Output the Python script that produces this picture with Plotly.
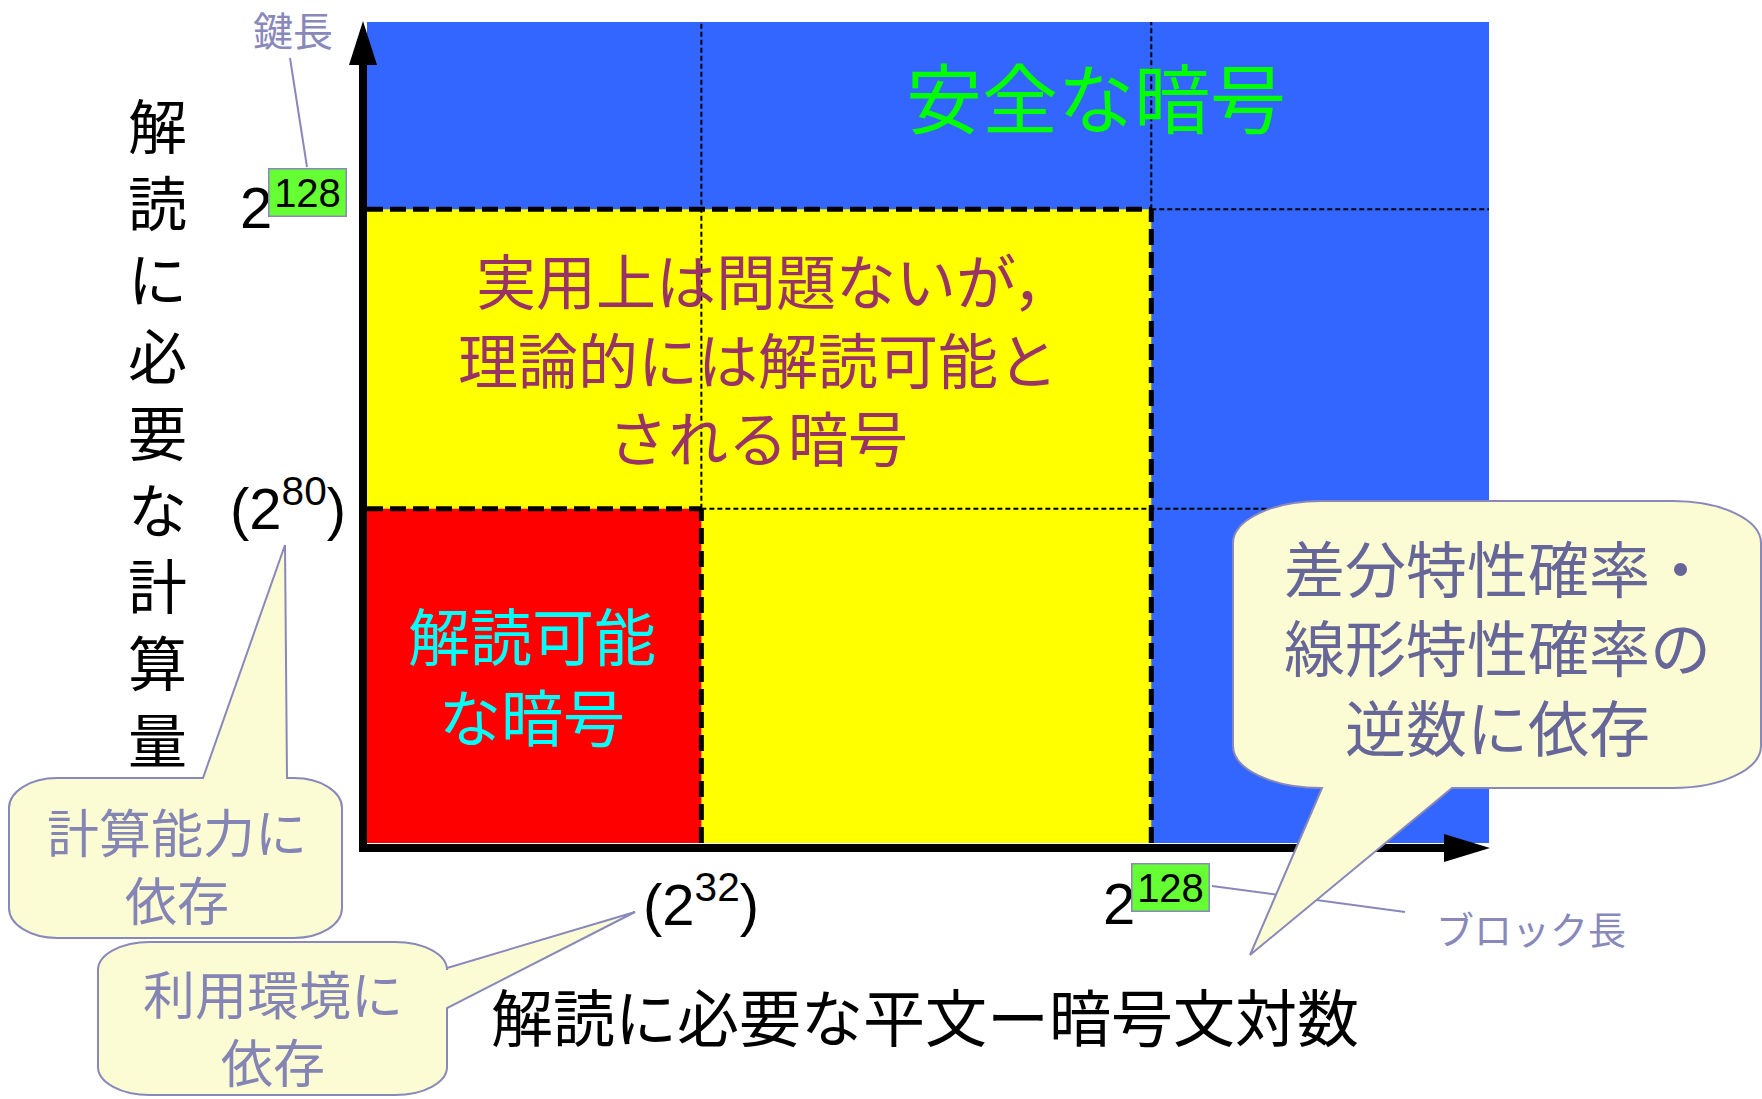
import plotly.graph_objects as go

# ---------------- data ----------------
region_names = ["安全な暗号",
                "実用上は問題ないが，<br>理論的には解読可能と<br>される暗号",
                "解読可能<br>な暗号"]
region_x_max = [100, 69.9, 29.8]      # axis units, origin at 0
region_y_max = [100, 77.2, 40.7]
x_tick_vals = [29.8, 69.9]
x_tick_exp = ["32", "128"]
x_tick_paren = [True, False]
y_tick_vals = [40.7, 77.2]
y_tick_exp = ["80", "128"]
y_tick_paren = [True, False]
x_title = "解読に必要な平文ー暗号文対数"
y_title = "解読に必要な計算量"
key_label = "鍵長"
block_label = "ブロック長"
callout_texts = ["計算能力に<br>依存",
                 "利用環境に<br>依存",
                 "差分特性確率・<br>線形特性確率の<br>逆数に依存"]

# ---------------- style / layout ----------------
W, H = 1762, 1099
PL, PR, PT, PB = 367, 1489, 22, 843
sx = (PR - PL) / 100.0
sy = (PB - PT) / 100.0
x_range = [-PL / sx, (W - PL) / sx]
y_range = [-(H - PB) / sy, PB / sy]

region_colors = ["#3366FF", "#FFFF00", "#FF0000"]
region_text_colors = ["#00FF00", "#993366", "#00FFFF"]
region_text_sizes = [76, 60, 62]
# per-block centres (pixels) and number of lines in each block
region_text_pos = [[(1096, 95, 1)],
                   [(774, 278, 1), (758, 396, 2)],
                   [(532, 674, 2)]]

CJK = "Noto Sans CJK JP, Noto Sans CJK SC, sans-serif"
NUM = "Liberation Sans Narrow, Arial Narrow, Liberation Sans, sans-serif"
NOTE = "#8888BB"
FILL = "#FCFCD4"

fig = go.Figure()
fig.add_trace(go.Scatter(x=[None], y=[None], xaxis="x", yaxis="y",
                         showlegend=False, hoverinfo="skip"))
fig.add_trace(go.Scatter(x=[None], y=[None], xaxis="x2", yaxis="y2",
                         showlegend=False, hoverinfo="skip"))

shapes = []
for xm, ym, col in zip(region_x_max, region_y_max, region_colors):
    shapes.append(dict(type="rect", xref="x", yref="y", x0=0, y0=0, x1=xm, y1=ym,
                       fillcolor=col, line=dict(width=0)))

thin = dict(color="black", width=2, dash="5px,3px")
thick = dict(color="black", width=5, dash="16px,7px")
for xm, ym in zip(region_x_max[1:], region_y_max[1:]):
    shapes.append(dict(type="line", xref="x", yref="y", x0=xm, x1=xm, y0=ym, y1=100, line=thin))
    shapes.append(dict(type="line", xref="x", yref="y", x0=xm, x1=100, y0=ym, y1=ym, line=thin))
for xm, ym in zip(region_x_max[1:], region_y_max[1:]):
    shapes.append(dict(type="line", xref="x", yref="y", x0=0, x1=xm, y0=ym, y1=ym, line=thick))
    shapes.append(dict(type="line", xref="x", yref="y", x0=xm, x1=xm, y0=0, y1=ym, line=thick))

# axes with arrows (pixel overlay)
shapes.append(dict(type="line", xref="x2", yref="y2", x0=363, x1=363, y0=852, y1=60,
                   line=dict(color="black", width=8)))
shapes.append(dict(type="path", xref="x2", yref="y2", path="M349,65 L363,21 L377,65 Z",
                   fillcolor="black", line=dict(width=0)))
shapes.append(dict(type="line", xref="x2", yref="y2", x0=359, x1=1448, y0=848, y1=848,
                   line=dict(color="black", width=8)))
shapes.append(dict(type="path", xref="x2", yref="y2", path="M1444,834 L1490,848 L1444,862 Z",
                   fillcolor="black", line=dict(width=0)))

# leader lines
shapes.append(dict(type="line", xref="x2", yref="y2", x0=290, y0=58, x1=307, y1=167,
                   line=dict(color=NOTE, width=2)))
shapes.append(dict(type="line", xref="x2", yref="y2", x0=1212, y0=886, x1=1405, y1=912,
                   line=dict(color=NOTE, width=2)))


def callout(x0, y0, x1, y1, rx, ry, edge, a, b, tip):
    k = 0.5523
    t = f"L{tip[0]},{tip[1]}"
    s = [f"M{x0 + rx},{y0}"]
    if edge == "top":
        s += [f"L{a},{y0}", t, f"L{b},{y0}"]
    s.append(f"L{x1 - rx},{y0}")
    s.append(f"C{x1 - rx + k * rx},{y0} {x1},{y0 + ry - k * ry} {x1},{y0 + ry}")
    if edge == "right":
        s += [f"L{x1},{a}", t, f"L{x1},{b}"]
    s.append(f"L{x1},{y1 - ry}")
    s.append(f"C{x1},{y1 - ry + k * ry} {x1 - rx + k * rx},{y1} {x1 - rx},{y1}")
    if edge == "bottom":
        s += [f"L{a},{y1}", t, f"L{b},{y1}"]
    s.append(f"L{x0 + rx},{y1}")
    s.append(f"C{x0 + rx - k * rx},{y1} {x0},{y1 - ry + k * ry} {x0},{y1 - ry}")
    s.append(f"L{x0},{y0 + ry}")
    s.append(f"C{x0},{y0 + ry - k * ry} {x0 + rx - k * rx},{y0} {x0 + rx},{y0}")
    s.append("Z")
    return dict(type="path", xref="x2", yref="y2", path=" ".join(s),
                fillcolor=FILL, line=dict(color=NOTE, width=2))


shapes.append(callout(9, 778, 342, 938, 48, 30, "top", 203, 287, (285, 545)))
shapes.append(callout(98, 942, 447, 1095, 52, 28, "right", 968, 1008, (635, 912)))
shapes.append(callout(1233, 501, 1761, 788, 88, 42, "bottom", 1452, 1322, (1250, 955)))

ann = []


def txt(x, y, text, size, color, family=CJK, xref="x2", yref="y2", **kw):
    d = dict(x=x, y=y, xref=xref, yref=yref, text=text, showarrow=False,
             xanchor="center", yanchor="middle", align="center",
             font=dict(family=family, size=size, color=color))
    d.update(kw)
    ann.append(d)


# region labels (the first yellow line, ending in a full-width comma, is centred on its ink)
for name, pos, size, col in zip(region_names, region_text_pos,
                                region_text_sizes, region_text_colors):
    lines = name.split("<br>")
    i = 0
    for cx, cy, n in pos:
        txt(cx, cy, "<br>".join(lines[i:i + n]), size, col)
        i += n

# y title (vertical, stacked)
txt(157, 430, "<br>".join(y_title), 59, "black")
# x title
txt(925, 1015, x_title, 62, "black")

# ticks
for v, e, p in zip(x_tick_vals, x_tick_exp, x_tick_paren):
    if p:
        txt(v, 900, f"(2<sup>{e}</sup>)", 58, "black", family=NUM, xref="x", yref="y2")
    else:
        txt(v, 903, "2", 58, "black", family=NUM, xref="x", yref="y2", xshift=-32)
        txt(v, 887, e, 40, "black", family=NUM, xref="x", yref="y2", xshift=19,
            bgcolor="#66FF33", bordercolor=NOTE, borderwidth=1.5, borderpad=0,
            width=76, height=46)
for v, e, p in zip(y_tick_vals, y_tick_exp, y_tick_paren):
    if p:
        txt(288, v, f"(2<sup>{e}</sup>)", 58, "black", family=NUM, xref="x2", yref="y",
            yshift=4)
    else:
        txt(256, v, "2", 58, "black", family=NUM, xref="x2", yref="y", yshift=2)
        txt(307, v, e, 40, "black", family=NUM, xref="x2", yref="y", yshift=17,
            bgcolor="#66FF33", bordercolor=NOTE, borderwidth=1.5, borderpad=0,
            width=76, height=46)

# notes
txt(293, 29, key_label, 40, NOTE)
txt(1531, 927, block_label, 38, NOTE)

# callout texts
callout_text_pos = [(177, 864), (273, 1026), (1497, 646)]
callout_text_size = [52, 52, 61]
callout_text_col = ["#8585B5", "#8585B5", "#666699"]
for text, (cx, cy), size, col in zip(callout_texts, callout_text_pos,
                                     callout_text_size, callout_text_col):
    txt(cx, cy, text, size, col)

fig.update_layout(
    width=W, height=H, autosize=False,
    margin=dict(l=0, r=0, t=0, b=0, pad=0),
    paper_bgcolor="white", plot_bgcolor="white",
    showlegend=False,
    xaxis=dict(range=x_range, visible=False, domain=[0, 1], fixedrange=True),
    yaxis=dict(range=y_range, visible=False, domain=[0, 1], fixedrange=True),
    xaxis2=dict(range=[0, W], visible=False, overlaying="x", anchor="y2", fixedrange=True),
    yaxis2=dict(range=[H, 0], visible=False, overlaying="y", anchor="x2", fixedrange=True),
    shapes=shapes,
    annotations=ann,
)

fig.write_html("out.html", config={"displayModeBar": False})
